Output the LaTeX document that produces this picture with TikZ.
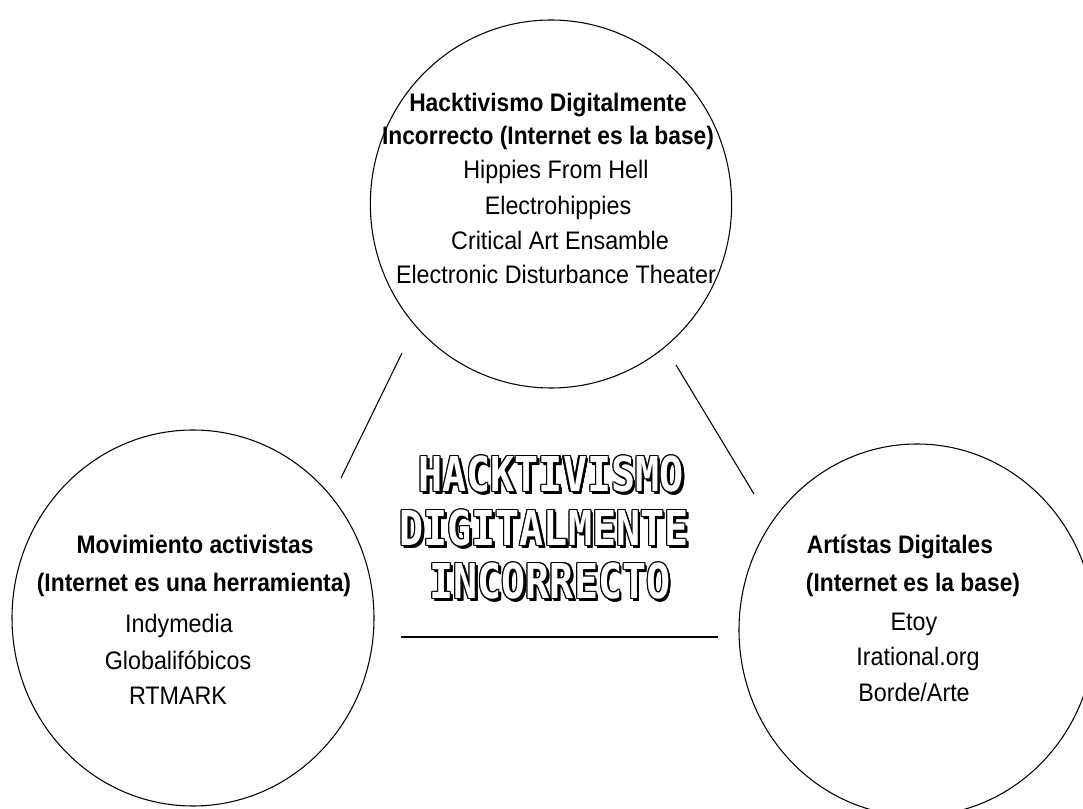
\documentclass[tikz,border=0pt]{standalone}
\usepackage{fontspec}
\setmainfont{Liberation Sans}
\newfontfamily\itemfont[FakeStretch=0.92]{Liberation Sans}
\newfontfamily\headfont[FakeStretch=0.9]{Liberation Sans Bold}
\newfontfamily\pixfont{DejaVu Sans Mono}
\usetikzlibrary{shapes.geometric}
\newcommand\pixline[3]{%
  \foreach \sx/\sy in {-0.8/0,0.8/0,0/0.8,0/-0.8,-0.8/0.8,0.8/-0.8,-0.8/-0.8,0.8/0.8,1.5/-1.5,2/-2,1.5/-2,2/-1.5}{%
    \node[big,text=black,xshift=\sx pt,yshift=\sy pt] at (#2) {\scalebox{1}[1.2]{#3}};}
  \node[big,text=white] (#1) at (#2) {\scalebox{1}[1.2]{#3}};}
\begin{document}
\begin{tikzpicture}[x=0.75pt,y=-0.75pt,
  ring/.style={draw=black, line width=0.8pt, ellipse, inner sep=0pt},
  head/.style={font=\headfont\fontsize{19}{22}\selectfont, anchor=base, inner sep=0pt},
  item/.style={font=\itemfont\fontsize{19}{22}\selectfont, anchor=base, inner sep=0pt},
  link/.style={draw=black, line width=0.8pt},
  big/.style={font=\pixfont\bfseries\fontsize{30}{34}\selectfont, inner sep=0pt}]
\useasboundingbox (0,0) rectangle (1083,809);
\fill[white] (0,0) rectangle (1083,809);

% circles
\node[ring, minimum width=271pt, minimum height=276pt] (top) at (551,204) {};
\node[ring, minimum width=271.5pt, minimum height=282pt] (left) at (193,618) {};
\node[ring, minimum width=267pt, minimum height=279pt] (right) at (917,630) {};

% top circle text
\node[head] (t1) at (548,112) {Hacktivismo Digitalmente};
\node[head] (t2) at (548,145) {Incorrecto (Internet es la base)};
\node[item] (t3) at (556,179) {Hippies From Hell};
\node[item] (t4) at (558,215) {Electrohippies};
\node[item] (t5) at (560,250) {Critical Art Ensamble};
\node[item] (t6) at (556,284) {Electronic Disturbance Theater};

% left circle text
\node[head] (l1) at (195,554) {Movimiento activistas};
\node[head] (l2) at (194,591) {(Internet es una herramienta)};
\node[item] (l3) at (179,633) {Indymedia};
\node[item] (l4) at (178,669) {Globalifóbicos};
\node[item] (l5) at (178,704) {RTMARK};

% right circle text
\node[head] (r1) at (900,553) {Artístas Digitales};
\node[head] (r2) at (913,591) {(Internet es la base)};
\node[item] (r3) at (914,630) {Etoy};
\node[item] (r4) at (918,665) {Irational.org};
\node[item] (r5) at (914,701) {Borde/Arte};

% central title
\pixline{c1}{551,474}{HACKTIVISMO}
\pixline{c2}{544,528}{DIGITALMENTE}
\pixline{c3}{550,581}{INCORRECTO}

% connectors
\coordinate (tl1) at (402,353); \coordinate (tl2) at (341,478);
\coordinate (tr1) at (676,365); \coordinate (tr2) at (754,494);
\coordinate (hl1) at (401,637); \coordinate (hl2) at (718,637);
\draw[link] (tl1) -- (tl2);
\draw[link] (tr1) -- (tr2);
\draw[link, line width=1.3pt] (hl1) -- (hl2);
\end{tikzpicture}
\end{document}
